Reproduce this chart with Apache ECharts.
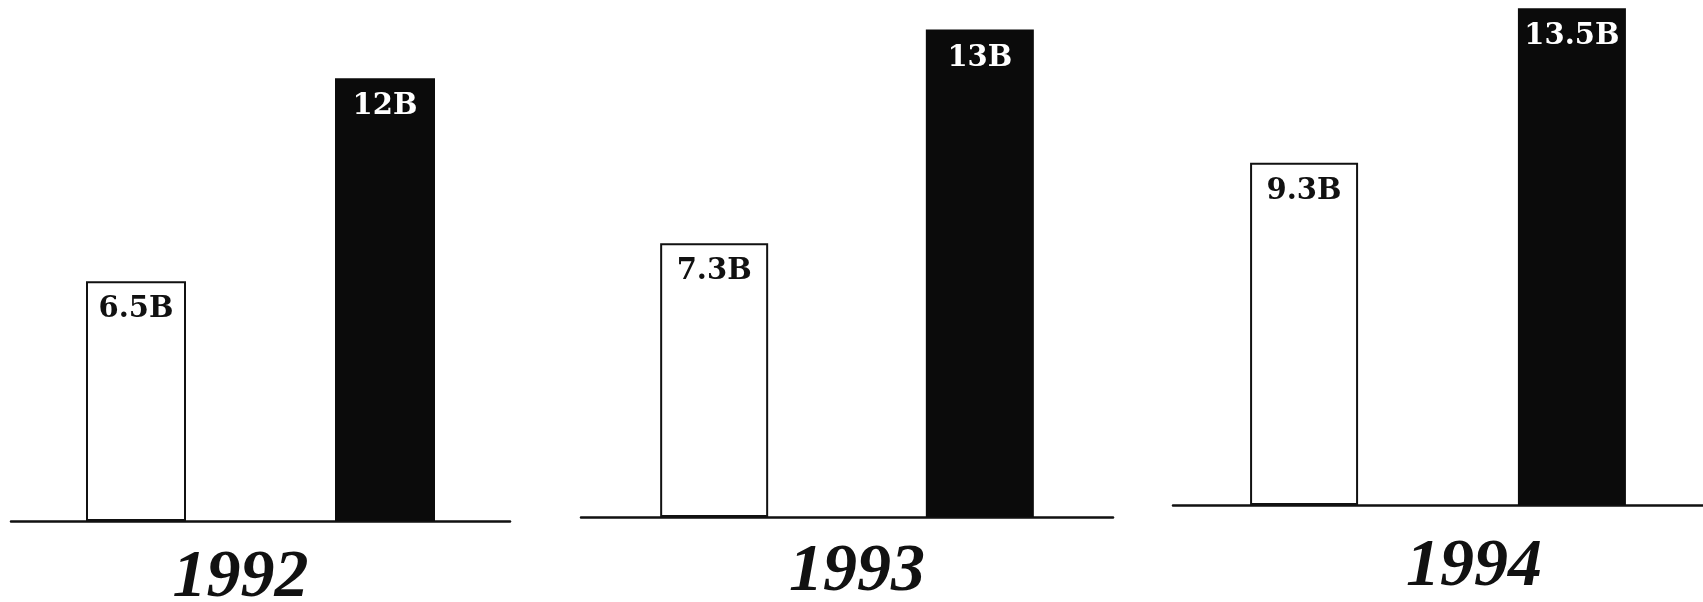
<!DOCTYPE html>
<html>
<head>
<meta charset="utf-8">
<script src="https://cdn.jsdelivr.net/npm/echarts@6/dist/echarts.min.js"></script>
<style>
    html, body { margin: 0; padding: 0; background: #fff; }
    #chart { width: 1703px; height: 602px; }
</style>
</head>
<body>
<div id="chart"></div>
<script>
// values (billions)
var years = ['1992', '1993', '1994'];
var whiteValues = [6.5, 7.3, 9.3];
var blackValues = [12, 13, 13.5];
var unit = 'B';

// layout of the three panels (px)
var panelLeft = [11, 581, 1173];
var panelRight = [510, 1113, 1703];
var baselineY = [521, 517, 505];
var pxPerUnit = [36.9, 37.5, 36.8];
var barWidths = [100, 108, 108];
var barGaps = ['149%', '146%', '148%'];
var yearShift = [-20, 10, 36];
var yearMargin = [23, 21, 28];

var H = 602;

function valueLabel(color){
    return {
        show: true,
        position: 'insideTop',
        distance: 14,
        color: color,
        fontFamily: 'DejaVu Serif',
        fontWeight: 'bold',
        fontSize: 29,
        formatter: function(p){ return p.value + unit; }
    };
}

var grids = [], xAxes = [], yAxes = [], series = [];
years.forEach(function(year, i){
    grids.push({
        left: panelLeft[i],
        width: panelRight[i] - panelLeft[i],
        top: 0,
        bottom: H - baselineY[i],
        outerBoundsMode: 'none',
        containLabel: false
    });
    var shift = yearShift[i];
    xAxes.push({
        type: 'category',
        gridIndex: i,
        data: [year],
        axisLine: { lineStyle: { color: '#111', width: 2.5 } },
        axisTick: { show: false },
        axisLabel: {
            margin: yearMargin[i],
            color: '#111',
            fontFamily: 'Liberation Serif',
            fontStyle: 'italic',
            fontWeight: 'bold',
            fontSize: 68,
            padding: shift > 0 ? [0, 0, 0, 2 * shift] : [0, -2 * shift, 0, 0]
        }
    });
    yAxes.push({
        type: 'value',
        gridIndex: i,
        min: 0,
        max: baselineY[i] / pxPerUnit[i],
        show: false
    });
    series.push({
        type: 'bar',
        xAxisIndex: i,
        yAxisIndex: i,
        data: [whiteValues[i]],
        barWidth: barWidths[i],
        barGap: barGaps[i],
        itemStyle: { color: '#fff', borderColor: '#111', borderWidth: 2 },
        label: valueLabel('#111')
    });
    series.push({
        type: 'bar',
        xAxisIndex: i,
        yAxisIndex: i,
        data: [blackValues[i]],
        barWidth: barWidths[i],
        barGap: barGaps[i],
        itemStyle: { color: '#0b0b0b' },
        label: valueLabel('#fff')
    });
});

var chart = echarts.init(document.getElementById('chart'));
chart.setOption({
    animation: false,
    backgroundColor: '#fff',
    grid: grids,
    xAxis: xAxes,
    yAxis: yAxes,
    series: series
});
</script>
</body>
</html>
